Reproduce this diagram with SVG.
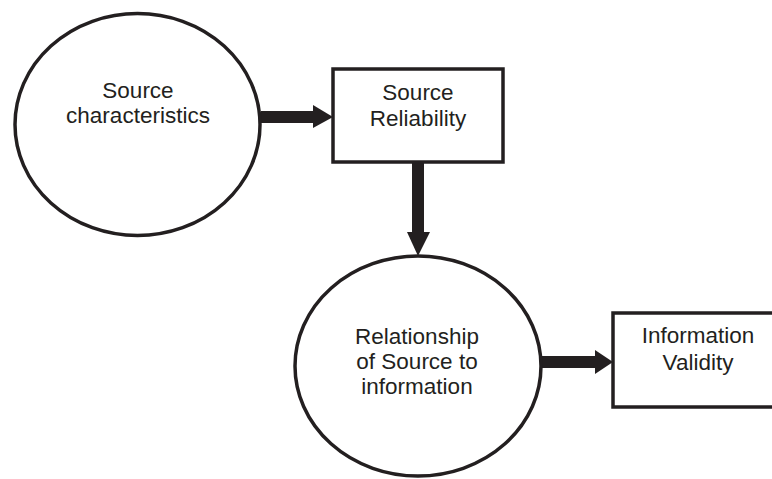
<svg xmlns="http://www.w3.org/2000/svg" width="772" height="479" viewBox="0 0 772 479">
<defs>
<style>
.node{fill:#fff;stroke:#231f20;stroke-width:3.5}
.lbl{font-family:"Liberation Sans",Arial,sans-serif;font-size:22.5px;fill:#231f20;text-anchor:middle}
.shaft{stroke:#231f20;stroke-width:12;fill:none}
.head{fill:#231f20}
</style>
</defs>
<rect width="772" height="479" fill="#fff"/>
<g id="connectors">
<line class="shaft" x1="261" y1="117" x2="316" y2="117"/>
<polygon class="head" points="313,105 333,117 313,128"/>
<line class="shaft" x1="418" y1="163" x2="418" y2="236"/>
<polygon class="head" points="407,232 418,256 430,232"/>
<line class="shaft" x1="541" y1="362" x2="598" y2="362"/>
<polygon class="head" points="595,350 613,362 595,374"/>
</g>
<g id="source-characteristics">
<ellipse class="node" cx="137.5" cy="124.5" rx="122.5" ry="111"/>
<text class="lbl" x="138" y="98">Source</text>
<text class="lbl" x="138" y="123">characteristics</text>
</g>
<g id="source-reliability">
<rect class="node" x="333" y="69" width="170" height="93"/>
<text class="lbl" x="418" y="100">Source</text>
<text class="lbl" x="418" y="126">Reliability</text>
</g>
<g id="relationship">
<ellipse class="node" cx="418" cy="366" rx="123" ry="110"/>
<text class="lbl" x="417" y="344">Relationship</text>
<text class="lbl" x="417" y="369">of Source to</text>
<text class="lbl" x="417" y="394">information</text>
</g>
<g id="information-validity">
<rect class="node" x="613" y="313" width="170" height="94"/>
<text class="lbl" x="698" y="343">Information</text>
<text class="lbl" x="698" y="370">Validity</text>
</g>
</svg>
